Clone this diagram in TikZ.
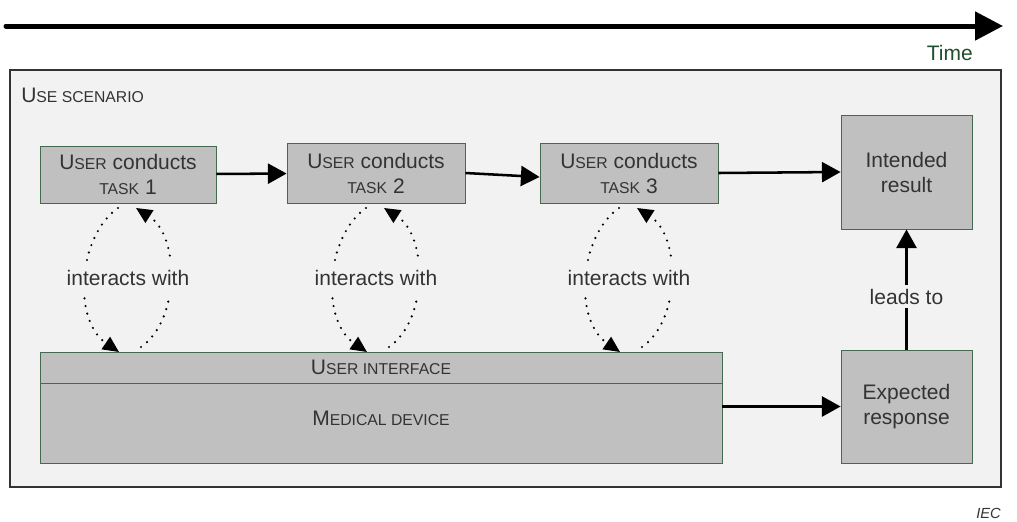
\documentclass[tikz,border=0pt]{standalone}
\usepackage{fontspec}
\setmainfont{Liberation Sans}
\usetikzlibrary{arrows.meta}
\definecolor{bg}{RGB}{242,242,242}
\definecolor{boxfill}{RGB}{192,192,192}
\definecolor{boxedge}{RGB}{70,105,82}
\definecolor{txt}{RGB}{51,51,51}
\definecolor{timegreen}{RGB}{30,80,45}
\newcommand\smc[1]{{\fontsize{11.8pt}{12pt}\selectfont #1}}
\begin{document}
\begin{tikzpicture}[x=0.75pt,y=-0.75pt,
  every node/.style={font=\fontsize{15.75pt}{18.75pt}\selectfont, text=txt},
  box/.style={draw=boxedge, line width=0.6pt, fill=boxfill, align=center, inner sep=0pt},
  arr/.style={line width=1.9pt, draw=black, -{Triangle[length=14pt,width=15pt]}},
  dotarr/.style={line width=1.8pt, line cap=round, dash pattern=on 0pt off 5.8pt, -{Triangle[length=12pt,width=11pt]}},
  lbl/.style={fill=bg, inner sep=3pt}]
\useasboundingbox (0,0) rectangle (1017,521);
% time arrow
\coordinate (ts) at (6,26);
\coordinate (te) at (1003,26);
\draw[line width=3.75pt, line cap=round, -{Triangle[length=21pt,width=21pt]}] (ts) -- (te);
\node[anchor=base east, inner sep=0pt, text=timegreen] (time) at (973,60) {Time};
% outer scenario box
\node[draw=txt, line width=1.5pt, fill=bg, minimum width=743.25pt, minimum height=312.75pt, inner sep=0pt] (scen) at (505.5,278.5) {};
\node[anchor=base west, inner sep=0pt] (scenlbl) at (21,102) {U\smc{SE SCENARIO}};
% tasks
\node[box, minimum width=132pt, minimum height=42.75pt] (t1) at (128,174.5) {U\smc{SER} conducts\\\smc{TASK} 1};
\node[box, minimum width=133.5pt, minimum height=45pt] (t2) at (376,173) {U\smc{SER} conducts\\\smc{TASK} 2};
\node[box, minimum width=133.5pt, minimum height=45pt] (t3) at (629,173) {U\smc{SER} conducts\\\smc{TASK} 3};
\node[box, minimum width=98.25pt, minimum height=85.5pt] (int) at (906.5,172) {Intended\\result};
\node[box, minimum width=98.25pt, minimum height=84.75pt] (exp) at (906.5,406.5) {Expected\\response};
\node[box, minimum width=511.5pt, minimum height=23.25pt] (ui) at (381,367.5) {U\smc{SER INTERFACE}};
\node[box, minimum width=511.5pt, minimum height=60pt] (md) at (381,423) {};
\node[inner sep=0pt] (mdlbl) at (381,418) {M\smc{EDICAL DEVICE}};
% arrows
\draw[arr] (t1) -- (t2);
\draw[arr] (t2.east) -- ([yshift=-3pt]t3.west);
\draw[arr] (t3.east) -- (int.west);
\draw[arr] (md.east |- exp.west) -- (exp.west);
\draw[arr] (exp) -- node[lbl, pos=0.44] (leads) {leads to} (int);
% interaction loops
\foreach \cx/\n in {128/1,376/2,629/3}{
  \draw[dotarr] (\cx-10,208) .. controls (\cx-50,236) and (\cx-56,320) .. (\cx-9,352);
  \draw[dotarr] (\cx+13,347) .. controls (\cx+52,320) and (\cx+52,236) .. (\cx+8,208);
  \node[lbl, inner ysep=7pt] (iw\n) at (\cx,278) {interacts with};
}
\node[anchor=base east, inner sep=0pt, font=\fontsize{11pt}{12pt}\selectfont\itshape] (iec) at (1001,518) {IEC};
\end{tikzpicture}
\end{document}
